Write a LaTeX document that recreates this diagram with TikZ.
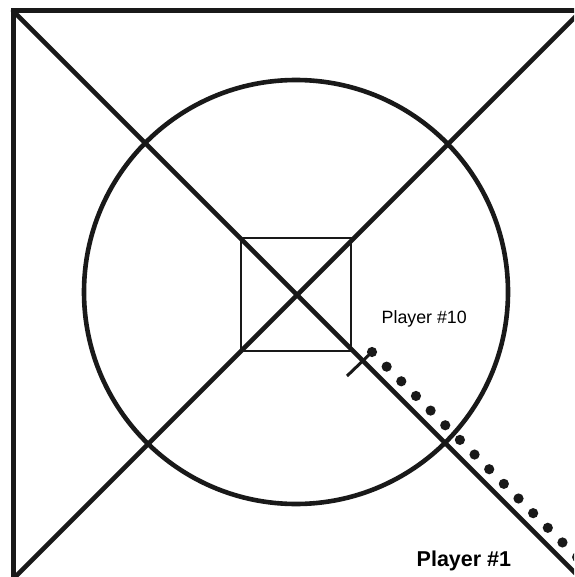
\documentclass[tikz,border=0pt]{standalone}
\usepackage{fontspec}
\setmainfont{Liberation Sans}
\usetikzlibrary{calc}
\begin{document}
\begin{tikzpicture}[x=1pt,y=-1pt,
  heavy/.style={line width=4.6pt,color=black!90},
  thin/.style={line width=2.7pt,color=black!90},
  dotmark/.style={fill=black!90},
  lbl/.style={inner sep=0pt,anchor=base west}]
\useasboundingbox (0,0) rectangle (574,577);
\clip (0,0) rectangle (574,577);
% outer square
\draw[heavy,line width=5pt] (13,11) rectangle (581,579);
% diagonals
\draw[heavy,line cap=round] (13,11) -- (581,579);
\draw[heavy,line cap=round] (13,579) -- (581,11);
% circle
\draw[heavy] (296,292) circle[radius=212];
% small square
\draw[thin] (241,238) rectangle (351,351);
% tick and dotted path
\coordinate (tickA) at (347,376);
\coordinate (d0) at (372,352);
\draw[line width=3pt,color=black!90] (tickA) -- (d0);
\foreach \k in {0,...,14}{
  \fill[dotmark] ($(d0)+(14.65*\k,14.65*\k)$) circle[radius=5.1];
}
\node[lbl,font=\fontsize{17.8}{21}\selectfont] (p10) at (381.5,323) {Player \#10};
\node[lbl,font=\bfseries\fontsize{21.5}{25}\selectfont] (p1) at (416.5,566) {Player \#1};
\end{tikzpicture}
\end{document}
